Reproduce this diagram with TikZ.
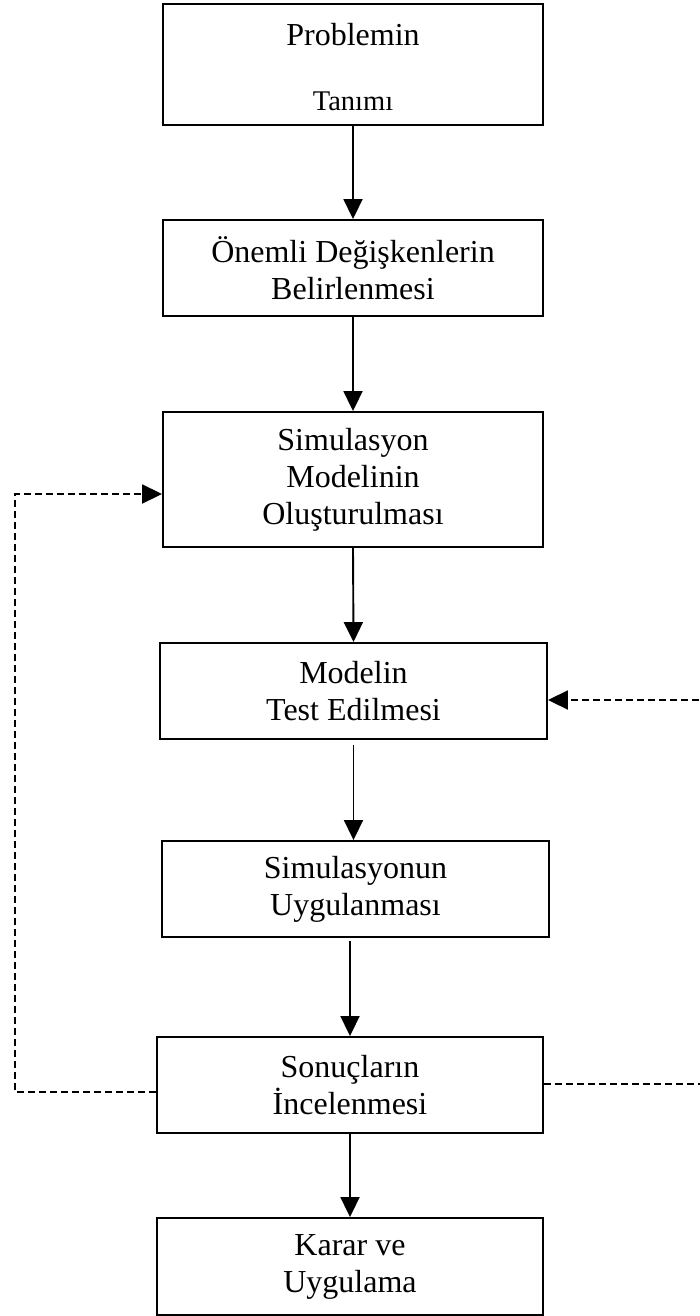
\documentclass[tikz,border=0pt]{standalone}
\usepackage{fontspec}
\setmainfont{Liberation Serif}
\usetikzlibrary{arrows.meta}
\tikzset{
  box/.style={draw, line width=1.9pt, align=center, inner sep=0pt,
    font=\fontsize{32}{37}\selectfont},
  arr/.style={line width=1.9pt, -{Triangle[length=20pt,width=19pt]}},
  dasharr/.style={line width=1.9pt, dash pattern=on 7pt off 4pt, -{Triangle[length=20pt,width=19pt]}}
}
\begin{document}
\begin{tikzpicture}[x=1pt,y=-1pt]
\useasboundingbox (0,0) rectangle (699,1316);
\node[box, minimum width=380pt, minimum height=121pt] (b1) at (353,64.5) {};
\node[font=\fontsize{32}{37}\selectfont] (t1a) at (353,35) {Problemin};
\node[font=\fontsize{28.5}{33}\selectfont] (t1b) at (353,101) {Tanımı};
\node[box, minimum width=380pt, minimum height=96pt] (b2) at (353,268) {Önemli Değişkenlerin\\Belirlenmesi};
\node[box, minimum width=380pt, minimum height=135pt] (b3) at (353,479.5) {Simulasyon\\Modelinin\\Oluşturulması};
\node[box, minimum width=387pt, minimum height=96pt] (b4) at (353.5,691) {Modelin\\Test Edilmesi};
\node[box, minimum width=387pt, minimum height=96pt] (b5) at (355.5,889) {Simulasyonun\\Uygulanması};
\node[box, minimum width=386pt, minimum height=96pt] (b6) at (350,1085) {Sonuçların\\İncelenmesi};
\node[box, minimum width=386pt, minimum height=97pt] (b7) at (350,1266.5) {Karar ve\\Uygulama};

\draw[arr] (b1.south) -- (b2.north);
\draw[arr] (b2.south) -- (b3.north);
\draw[arr] (b3.south) -- (b4.north);
\draw[arr] ([yshift=-5pt]b4.south) -- (b4.south |- b5.north);
\draw[arr] ([yshift=-3pt]b5.south -| b6.north) -- (b6.north);
\draw[arr] (b6.south) -- (b7.north);

\coordinate (l1) at (15,1092);
\coordinate (l2) at (15,494);
\draw[dasharr] (b6.west |- l1) -- (l1) -- (l2) -- (b3.west |- l2);
\coordinate (r1) at (710,1084);
\coordinate (r2) at (710,700);
\draw[dasharr] (b6.east |- r1) -- (r1) -- (r2) -- (b4.east |- r2);
\end{tikzpicture}
\end{document}
